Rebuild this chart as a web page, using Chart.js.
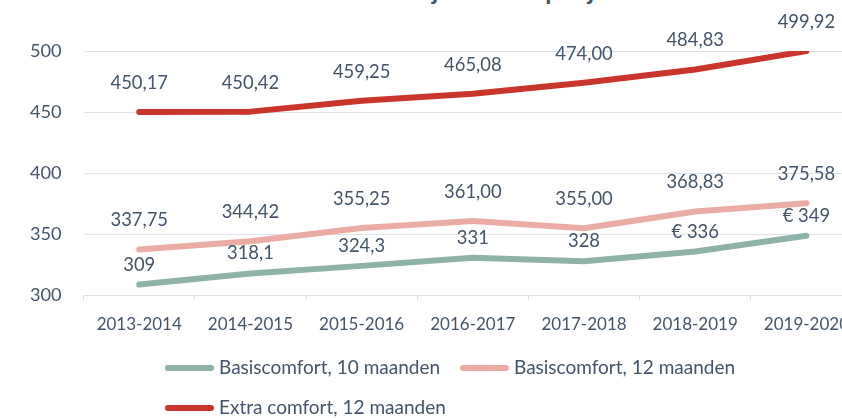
<!DOCTYPE html>
<html>
<head>
<meta charset="utf-8">
<script src="https://cdn.jsdelivr.net/npm/chart.js@4"></script>
<style>
  html, body { margin: 0; padding: 0; background: #fff; overflow: hidden; }
  #wrap { position: relative; width: 842px; height: 418px; overflow: hidden; }
  #title {
    position: absolute; left: 401px; top: -22px; white-space: nowrap;
    font: 700 25px/25px Lato, sans-serif; color: #44546A;
  }
  #chart { position: absolute; left: 0; top: 0; }
</style>
</head>
<body>
<div id="wrap">
  <div id="title">Prijsevolutie per jaar</div>
  <canvas id="chart" width="880" height="418"></canvas>
</div>
<script>
const years = ["2013-2014", "2014-2015", "2015-2016", "2016-2017", "2017-2018", "2018-2019", "2019-2020"];
const basis10 = [309, 318.1, 324.3, 331, 328, 336, 349];
const basis10Labels = ["309", "318,1", "324,3", "331", "328", "€ 336", "€ 349"];
const basis12 = [337.75, 344.42, 355.25, 361.0, 355.0, 368.83, 375.58];
const extra12 = [450.17, 450.42, 459.25, 465.08, 474.0, 484.83, 499.92];
const yTicks = [300, 350, 400, 450, 500];

const textColor = "#44546A";
const gridColor = "#DDE2EA";
const font = "Lato, sans-serif";

function comma2(v) {
  return v.toFixed(2).replace(".", ",");
}

// value labels above each point
const valueLabels = {
  id: "valueLabels",
  afterDatasetsDraw(chart) {
    const ctx = chart.ctx;
    ctx.save();
    ctx.font = "18.4px " + font;
    ctx.fillStyle = textColor;
    ctx.textAlign = "center";
    ctx.textBaseline = "middle";
    chart.data.datasets.forEach((ds, i) => {
      const meta = chart.getDatasetMeta(i);
      meta.data.forEach((pt, j) => {
        const txt = ds.labelTexts ? ds.labelTexts[j] : comma2(ds.data[j]);
        ctx.fillText(txt, pt.x, pt.y - ds.labelOffset);
      });
    });
    ctx.restore();
  }
};

// legend laid out like the original (two rows, left aligned)
const sideLegend = {
  id: "sideLegend",
  afterDraw(chart) {
    const ctx = chart.ctx;
    const spots = [[165, 368], [460, 368], [165, 408]];
    ctx.save();
    ctx.font = "19px " + font;
    ctx.textBaseline = "middle";
    ctx.textAlign = "left";
    chart.data.datasets.forEach((ds, i) => {
      const [x, y] = spots[i];
      ctx.strokeStyle = ds.borderColor;
      ctx.lineWidth = 6;
      ctx.lineCap = "round";
      ctx.beginPath();
      ctx.moveTo(x + 3, y);
      ctx.lineTo(x + 46, y);
      ctx.stroke();
      ctx.fillStyle = textColor;
      ctx.fillText(ds.label, x + 54, y);
    });
    ctx.restore();
  }
};

new Chart(document.getElementById("chart"), {
  type: "line",
  data: {
    labels: years,
    datasets: [
      {
        label: "Basiscomfort, 10 maanden",
        data: basis10,
        labelTexts: basis10Labels,
        labelOffset: 20,
        borderColor: "#8DB3A9",
      },
      {
        label: "Basiscomfort, 12 maanden",
        data: basis12,
        labelOffset: 29,
        borderColor: "#EBACA6",
      },
      {
        label: "Extra comfort, 12 maanden",
        data: extra12,
        labelOffset: 29,
        borderColor: "#C9352B",
      },
    ],
  },
  options: {
    responsive: false,
    animation: false,
    layout: { padding: { left: 8, right: 18, top: 51, bottom: 69 } },
    elements: {
      line: { borderWidth: 6, tension: 0, borderCapStyle: "round", borderJoinStyle: "round", fill: false },
      point: { radius: 0, hoverRadius: 0 },
    },
    plugins: {
      legend: { display: false },
      tooltip: { enabled: false },
    },
    scales: {
      x: {
        offset: true,
        grid: { offset: true, drawOnChartArea: false, drawTicks: true, tickLength: 5, color: gridColor },
        border: { display: true, color: gridColor, width: 1 },
        ticks: { color: textColor, font: { family: font, size: 17 }, padding: 14, maxRotation: 0, autoSkip: false },
      },
      y: {
        min: 300,
        max: 500,
        afterBuildTicks(axis) {
          axis.ticks = yTicks.map((v) => ({ value: v }));
        },
        grid: { color: gridColor, drawTicks: false, lineWidth: 1 },
        border: { display: false },
        ticks: { color: textColor, font: { family: font, size: 18.2 }, padding: 22 },
      },
    },
  },
  plugins: [valueLabels, sideLegend],
});
</script>
</body>
</html>
